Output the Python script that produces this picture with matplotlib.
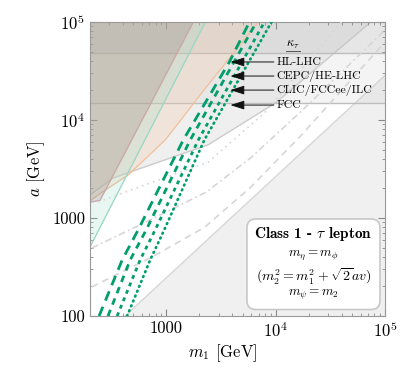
import math
import matplotlib
matplotlib.use('Agg')
import matplotlib.pyplot as plt
from matplotlib.patches import FancyBboxPatch
from matplotlib.ticker import FixedLocator, FuncFormatter, LogLocator, NullFormatter

plt.rcParams['font.family'] = 'serif'
plt.rcParams['font.serif'] = ['cmr10']
plt.rcParams['mathtext.fontset'] = 'cm'
plt.rcParams['axes.formatter.use_mathtext'] = True
plt.rcParams['axes.unicode_minus'] = False

# --- regions (m1 [GeV], a [GeV]) ---
brown_m1 = [200, 247, 1763]
brown_a = [1450, 1515, 1e5]
teal_m1 = [200, 2270]
teal_a = [506, 1e5]
orange_m1 = [200, 252, 447, 975, 2318, 6955]
orange_a = [1500, 1800, 2750, 6250, 21700, 1e5]
grayreg_m1 = [200, 325, 2420, 10000, 74100]
grayreg_a = [1720, 2560, 5600, 15000, 1e5]
lower_m1 = [419, 1e5]
lower_a = [100, 28500]

# kappa_tau horizontal bounds
kappa_lines = [48300, 14900]

# light gray contour lines
dashed_m1 = [208, 710, 2222, 5875, 16900, 1e5]
dashed_a = [198, 391, 800, 2050, 6870, 62500]
dashdot_m1 = [208, 710, 2318, 5875, 16900, 1e5]
dashdot_a = [494, 955, 1840, 4090, 12100, 82800]
dotted_m1 = [237, 2420, 8000, 40000]
dotted_a = [1457, 3730, 12000, 1e5]

# green sensitivity curves
hl_m1 = [242, 394, 551, 1426, 3767, 5754]
hl_a = [100, 373, 755, 6250, 39100, 1e5]
cepc_m1 = [292, 466, 653, 1652, 6668]
cepc_a = [100, 373, 755, 6250, 1e5]
clic_m1 = [354, 575, 789, 1959, 7890]
clic_a = [100, 373, 755, 6250, 1e5]
fcc_m1 = [437, 710, 955, 2222, 9160]
fcc_a = [100, 373, 755, 6250, 1e5]

labels = ['HL-LHC', 'CEPC/HE-LHC', 'CLIC/FCCee/ILC', 'FCC']
label_a = [39100, 28100, 20200, 14200]

fig = plt.figure(figsize=(4.08, 3.74), dpi=100)
ax = fig.add_axes([90/408, 1-316/374, 295/408, 294/374])
ax.set_xscale('log')
ax.set_yscale('log')
ax.set_xlim(200, 1e5)
ax.set_ylim(100, 1e5)

# filled regions
ax.fill_between(lower_m1, lower_a, 1, color='#f0f0f0', zorder=1)
ax.plot(lower_m1, lower_a, color='#d8d8d8', lw=1, zorder=1.1)
ax.fill_between(grayreg_m1, grayreg_a, 1e5, color='#e5e5e5', alpha=0.6, lw=0, zorder=1)
ax.plot(grayreg_m1, grayreg_a, color='#cccccc', lw=1, zorder=1.1)
ax.axhspan(kappa_lines[0], 1e5, color='#bbbbbb', alpha=0.25, lw=0, zorder=1.2)
ax.axhspan(kappa_lines[1], 1e5, color='#cccccc', alpha=0.2, lw=0, zorder=1.2)
for k in kappa_lines:
    ax.axhline(k, color='#bdbdbd', lw=1, zorder=1.3)

ax.fill_between(orange_m1, orange_a, 1e5, color='#f5c9a5', alpha=0.28, lw=0, zorder=2)
ax.plot(orange_m1, orange_a, color='#f0c09c', lw=0.9, zorder=2.1)
ax.fill_between(teal_m1, teal_a, 1e5, color='#8fd9c2', alpha=0.2, lw=0, zorder=2.2)
ax.plot(teal_m1, teal_a, color='#9ad6c4', lw=0.9, zorder=2.3)
ax.fill_between(brown_m1, brown_a, 1e5, color='#9a7a78', alpha=0.25, lw=0, zorder=2.4)
ax.plot(brown_m1, brown_a, color='#c9a8a8', lw=0.9, zorder=2.5)

# gray contours
ax.plot(dashed_m1, dashed_a, color='#d6d6d6', lw=1.2, ls=(0, (4, 3)), zorder=3)
ax.plot(dashdot_m1, dashdot_a, color='#d6d6d6', lw=1.2, ls=(0, (4, 2, 1, 2)), zorder=3)
ax.plot(dotted_m1, dotted_a, color='#d6d6d6', lw=1.2, ls=(0, (1, 2.5)), zorder=3)

# green curves
green = '#009e6a'
ax.plot(hl_m1, hl_a, color=green, lw=2, ls=(0, (3.6, 2.4)), zorder=4)
ax.plot(cepc_m1, cepc_a, color=green, lw=2, ls=(0, (2.4, 2.0)), zorder=4)
ax.plot(clic_m1, clic_a, color=green, lw=2, ls=(0, (1.4, 1.5)), zorder=4)
ax.plot(fcc_m1, fcc_a, color=green, lw=2, ls=(0, (0.3, 1.6)), dash_capstyle='round', zorder=4)

# arrows and labels
for lab, ya in zip(labels, label_a):
    ax.annotate(lab, xy=(3850, ya), xytext=(10200, ya), fontsize=8.5, va='center', ha='left',
                arrowprops=dict(arrowstyle='-|>,head_length=1.0,head_width=0.32', color='#111111', lw=0.7,
                                shrinkA=0, shrinkB=0), zorder=5)
ax.text(14500, 58000, r'$\kappa_\tau$', fontsize=9, ha='center', va='center', zorder=5)
ax.plot([12300, 16600], [50500, 50500], color='#555555', lw=0.7, zorder=5)

# info box
box = FancyBboxPatch((0.532, 0.022), 0.451, 0.308, boxstyle='round,pad=0,rounding_size=0.03',
                     transform=ax.transAxes, facecolor='white', edgecolor='#c8c8c8', lw=1.2, zorder=6)
ax.add_patch(box)
ax.text(0.757, 0.279, r'Class 1 - $\tau$ lepton', transform=ax.transAxes, ha='center', va='center',
        fontsize=11, family='cmb10', zorder=7)
ax.text(0.757, 0.207, r'$m_\eta = m_\phi$', transform=ax.transAxes, ha='center', va='center', fontsize=9.5, zorder=7)
ax.text(0.757, 0.136, r'$(m_2^2 = m_1^2 + \sqrt{2}av)$', transform=ax.transAxes, ha='center', va='center',
        fontsize=10, zorder=7)
ax.text(0.757, 0.071, r'$m_\psi = m_2$', transform=ax.transAxes, ha='center', va='center', fontsize=9.5, zorder=7)

# ticks
def fmt(v, pos):
    if v < 5000:
        return '%d' % round(v)
    return r'$10^{%d}$' % round(math.log10(v))

ax.xaxis.set_major_locator(FixedLocator([1000, 1e4, 1e5]))
ax.yaxis.set_major_locator(FixedLocator([100, 1000, 1e4, 1e5]))
ax.xaxis.set_major_formatter(FuncFormatter(fmt))
ax.yaxis.set_major_formatter(FuncFormatter(fmt))
ax.xaxis.set_minor_locator(LogLocator(base=10, subs=range(2, 10), numticks=20))
ax.yaxis.set_minor_locator(LogLocator(base=10, subs=range(2, 10), numticks=20))
ax.xaxis.set_minor_formatter(NullFormatter())
ax.yaxis.set_minor_formatter(NullFormatter())
ax.tick_params(which='both', direction='in', top=True, right=True, color='#888888', labelsize=12)
ax.tick_params(which='major', length=5)
ax.tick_params(which='minor', length=2.5)
for s in ax.spines.values():
    s.set_color('#999999')

ax.set_xlabel(r'$m_1$ [GeV]', fontsize=12)
ax.xaxis.set_label_coords(0.45, -0.09)
ax.set_ylabel(r'$a$ [GeV]', fontsize=12)

fig.savefig('out.png', dpi=100)
